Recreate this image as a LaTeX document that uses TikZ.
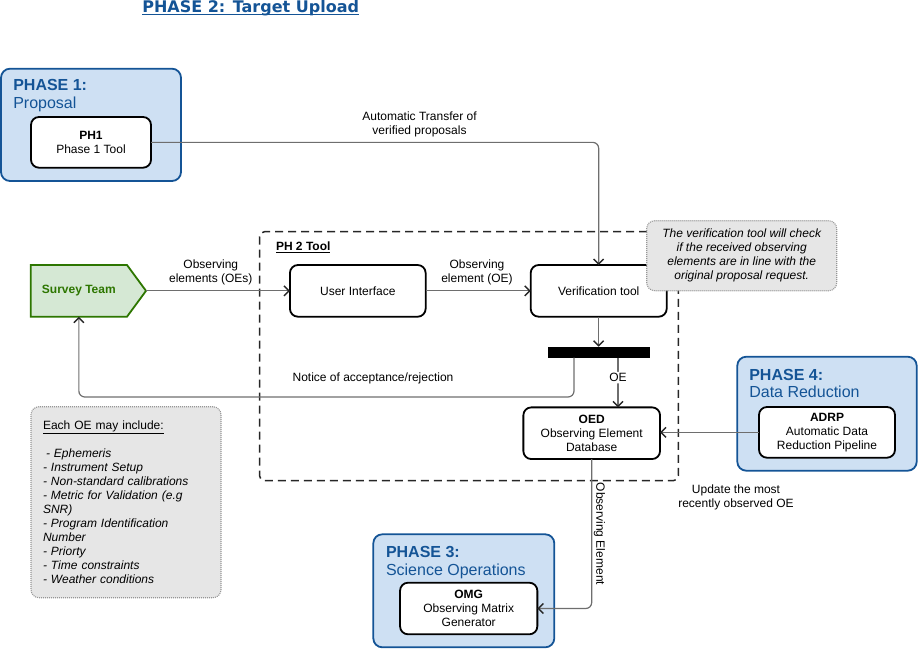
\documentclass[tikz,border=0pt]{standalone}
\usepackage{fontspec}
\setmainfont{Liberation Sans}
\newfontfamily\titlefont{DejaVu Sans}
\usetikzlibrary{arrows.meta,calc}
\definecolor{phaseblue}{RGB}{20,84,150}
\definecolor{phasefill}{RGB}{206,224,243}
\definecolor{stgreen}{RGB}{45,118,0}
\definecolor{stfill}{RGB}{213,232,212}
\definecolor{notefill}{RGB}{230,230,230}
\definecolor{notedraw}{RGB}{150,150,150}
\definecolor{edgegray}{RGB}{110,110,110}
\begin{document}
\begin{tikzpicture}[x=1pt,y=-1pt,
 every node/.style={inner sep=0pt, outer sep=0pt},
 txt/.style={font=\fontsize{12}{14}\selectfont, align=center},
 box/.style={draw=black, line width=1.8pt, rounded corners=8pt, fill=white, font=\fontsize{12}{14}\selectfont, align=center},
 phasebox/.style={draw=phaseblue, fill=phasefill, line width=1.8pt, rounded corners=9pt},
 phasetitle/.style={anchor=base west, text=phaseblue, font=\fontsize{16}{18}\selectfont\bfseries},
 phasesub/.style={anchor=base west, text=phaseblue, font=\fontsize{16}{18}\selectfont},
 edge/.style={draw=edgegray, line width=1.2pt, rounded corners=6pt},
 arr/.style={edge, -{Straight Barb[length=5pt,width=10pt,line width=1.4pt,color=black!85]}},
 note/.style={draw=notedraw, dash pattern=on 1pt off 1pt, fill=notefill, line width=1.1pt, rounded corners=8pt},
]
\useasboundingbox (0,0) rectangle (918,649);

% title
\node[anchor=base, text=phaseblue, font=\titlefont\fontsize{16}{18}\selectfont\bfseries] (title) at (250.7,12) {PHASE 2: Target Upload};
\draw[phaseblue, line width=1.2pt] ([yshift=-2.5pt]title.base west) -- ([yshift=-2.5pt]title.base east);

% phase boxes
\node[phasebox, minimum width=180pt, minimum height=112.3pt] (p1) at (91,124.85) {};
\node[phasetitle] (p1t) at (13.3,90) {PHASE 1:};
\node[phasesub] (p1s) at (13.3,108) {Proposal};

\node[phasebox, minimum width=179.4pt, minimum height=114pt] (p4) at (827,413.7) {};
\node[phasetitle] (p4t) at (749.3,380) {PHASE 4:};
\node[phasesub] (p4s) at (749.3,397.7) {Data Reduction};

\node[phasebox, minimum width=181pt, minimum height=113pt] (p3) at (463.8,590.8) {};
\node[phasetitle] (p3t) at (386,557.3) {PHASE 3:};
\node[phasesub] (p3s) at (386,575) {Science Operations};

% PH2 tool dashed box
\draw[draw=black!85, line width=1.5pt, dash pattern=on 8pt off 5pt, rounded corners=5pt] (259.5,231.7) rectangle (678.3,480.7);
\node[anchor=base west, font=\fontsize{12}{14}\selectfont\bfseries] (ph2) at (276,250.5) {\underline{PH 2 Tool}};

% nodes
\node[box, minimum width=120pt, minimum height=50.7pt] (ph1) at (91,142.35) {\textbf{PH1}\\Phase 1 Tool};
\node[box, minimum width=136pt, minimum height=50.7pt] (adrp) at (827,432.35) {\textbf{ADRP}\\Automatic Data\\Reduction Pipeline};
\node[box, minimum width=137.3pt, minimum height=51.6pt] (omg) at (468.7,608.5) {\textbf{OMG}\\Observing Matrix\\Generator};
\node[box, minimum width=136.7pt, minimum height=51.7pt] (oed) at (591.7,433.2) {\textbf{OED}\\Observing Element\\Database};
\node[box, minimum width=136pt, minimum height=51.7pt] (vt) at (598.7,290.85) {Verification tool};
\node[box, minimum width=135.7pt, minimum height=51.7pt] (ui) at (357.8,290.85) {User Interface};
\node[fill=black, minimum width=102pt, minimum height=11pt] (bar) at (599,352.2) {};

% survey team
\draw[draw=stgreen, fill=stfill, line width=1.8pt] (30.7,265) -- (127,265) -- (146,290.85) -- (127,316.7) -- (30.7,316.7) -- cycle;
\node[minimum width=96.3pt, minimum height=51.7pt, text=stgreen, font=\fontsize{12}{14}\selectfont\bfseries] (st) at (78.85,290.85) {Survey Team};
\coordinate (sttip) at (146,290.85);

% edges
\draw[arr] (ph1.east) -| (vt.north);
\node[txt] (l1) at (419.5,124) {Automatic Transfer of\\verified proposals};
\draw[arr] (sttip) -- (ui.west);
\node[txt] (l2) at (210.8,272) {Observing\\elements (OEs)};
\draw[arr] (ui.east) -- (vt.west);
\node[txt] (l3) at (477,272) {Observing\\element (OE)};
\draw[arr] (vt.south) -- (vt.south |- bar.north);
\draw[arr] ([xshift=-25pt]bar.south) -- ++(0,39.3) -| (st.south);
\node[txt] (l4) at (373,378) {Notice of acceptance/rejection};
\draw[arr] ([xshift=19pt]bar.south) -- ([xshift=19pt]bar.south |- oed.north) node[pos=0.4, txt, fill=white, inner sep=1.5pt] (l5) {OE};
\draw[arr] (adrp.west) -- (adrp.west -| oed.east);
\node[txt] (l6) at (736,497) {Update the most\\recently observed OE};
\draw[arr] (oed.south) |- (omg.east);
\node[txt, rotate=-90] (l7) at (599.5,534) {Observing Element};

% notes
\node[note, minimum width=190pt, minimum height=70pt, font=\fontsize{12}{14}\selectfont\itshape, align=center] (n1) at (741.7,255.7) {The verification tool will check\\if the received observing\\elements are in line with the\\original proposal request.};
\node[note, minimum width=190pt, minimum height=191pt, inner xsep=12pt, text width=166pt, align=left, font=\fontsize{12}{14}\selectfont] (n2) at (126,502.2) {\underline{Each OE may include:}\\[14pt]
\hspace*{3pt}\textit{- Ephemeris}\\
\textit{- Instrument Setup}\\
\textit{- Non-standard calibrations}\\
\textit{- Metric for Validation (e.g}\\
\textit{SNR)}\\
\textit{- Program Identification}\\
\textit{Number}\\
\textit{- Priorty}\\
\textit{- Time constraints}\\
\textit{- Weather conditions}};
\end{tikzpicture}
\end{document}
